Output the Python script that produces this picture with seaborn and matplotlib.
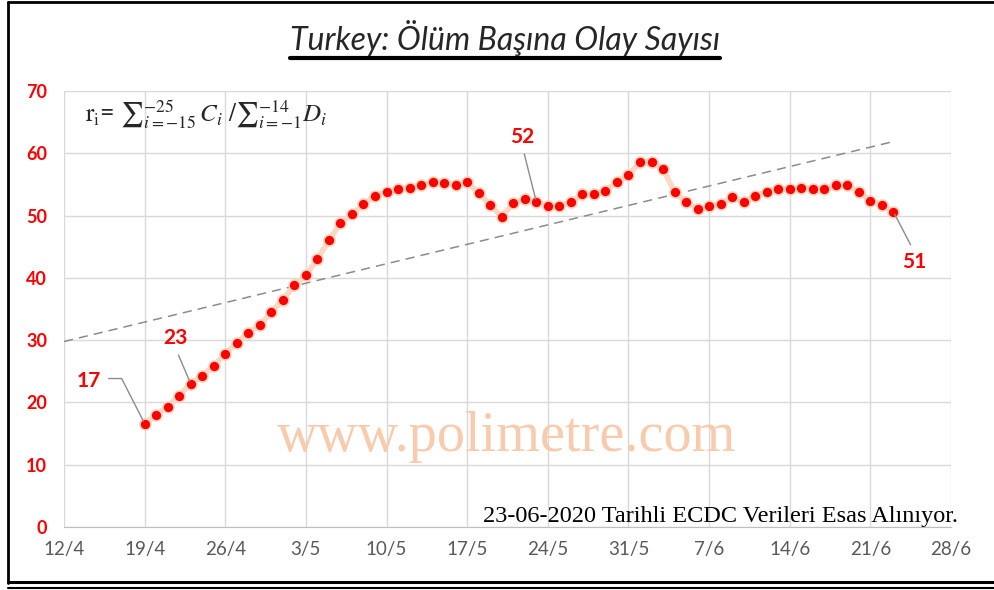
import matplotlib
matplotlib.use("Agg")
import matplotlib.pyplot as plt
from matplotlib.lines import Line2D
import numpy as np
import pandas as pd
import seaborn as sns

# daily ratio values, 19/4 .. 23/6
start_date = "2020-04-19"
ratio = [16.6, 18.0, 19.3, 21.1, 23.0, 24.3, 25.9, 27.8, 29.6, 31.2,
         32.4, 34.5, 36.5, 38.8, 40.4, 43.0, 46.0, 48.8, 50.2, 51.8,
         53.2, 53.8, 54.2, 54.5, 54.9, 55.4, 55.2, 54.9, 55.4, 53.6,
         51.7, 49.8, 52.0, 52.6, 52.2, 51.5, 51.5, 52.2, 53.4, 53.4,
         54.0, 55.4, 56.5, 58.6, 58.6, 57.5, 53.8, 52.2, 51.0, 51.5,
         51.8, 52.9, 52.2, 53.2, 53.8, 54.3, 54.3, 54.5, 54.3, 54.3,
         54.9, 54.9, 53.8, 52.4, 51.7, 50.6]
labelled_idx = [0, 4, 34, 65]
tick_labels = ["12/4", "19/4", "26/4", "3/5", "10/5", "17/5",
               "24/5", "31/5", "7/6", "14/6", "21/6", "28/6"]
y_ticks = [0, 10, 20, 30, 40, 50, 60, 70]
trend_back_days = 7

df = pd.DataFrame({
    "date": pd.date_range(start_date, periods=len(ratio), freq="D"),
    "ratio": ratio,
})
df["day"] = np.arange(len(df))

sns.set_style("white")
plt.rcParams["font.family"] = ["Lato", "DejaVu Sans"]
plt.rcParams["mathtext.fontset"] = "stix"

fig = plt.figure(figsize=(9.95, 5.9), dpi=100)
ax = fig.add_axes([0.0643, 0.1068, 0.8915, 0.739])

# trend line (least squares, extended one week back)
slope, intercept = np.polyfit(df["day"], df["ratio"], 1)
trend_days = np.array([-trend_back_days, df["day"].iloc[-1]])
trend = pd.DataFrame({
    "date": pd.Timestamp(start_date) + pd.to_timedelta(trend_days, unit="D"),
    "ratio": slope * trend_days + intercept,
})
ax.plot(trend["date"], trend["ratio"], color="#8c8c8c", lw=1.1,
        dashes=(6, 4), zorder=2)

sns.lineplot(data=df, x="date", y="ratio", ax=ax, color="#FCD9C4",
             lw=4, zorder=3)
sns.scatterplot(data=df, x="date", y="ratio", ax=ax, color="#FF0000",
                s=62, edgecolor="#FCD2BA", linewidth=1.2, zorder=4)

offsets = {0: (-40, 31), 4: (-11, 33), 34: (-10, 47), 65: (15, -36)}
relpos = {0: (1.0, 0.6), 4: (0.5, 0.0), 34: (0.5, 0.0), 65: (0.5, 1.0)}
for i in labelled_idx:
    row = df.iloc[i]
    conn = "angle,angleA=0,angleB=-63,rad=0" if i == 0 else "arc3"
    ax.annotate(f"{round(row['ratio'])}", xy=(row["date"], row["ratio"]),
                xytext=offsets[i], textcoords="offset points",
                ha="center", va="center", color="#FF0000",
                fontsize=15, fontweight="bold", zorder=6,
                arrowprops=dict(arrowstyle="-", color="#8c8c8c", lw=1,
                                relpos=relpos[i], shrinkA=3, shrinkB=2,
                                connectionstyle=conn))

ticks = pd.date_range("2020-04-12", "2020-06-28", freq="7D")
ax.set_xlim(ticks[0], ticks[-1])
ax.set_ylim(0, 70)
ax.set_xticks(ticks)
ax.set_xticklabels(tick_labels)
ax.set_yticks(y_ticks)
ax.set_xlabel("")
ax.set_ylabel("")
ax.grid(True, color="#D9D9D9", lw=1)
ax.set_axisbelow(True)
for side in ["top", "right", "left"]:
    ax.spines[side].set_visible(False)
ax.spines["bottom"].set_color("#BFBFBF")
ax.tick_params(axis="x", length=0, pad=10, labelsize=13.5, labelcolor="#595959")
ax.tick_params(axis="y", length=0, pad=12, labelsize=13, labelcolor="#FF0000")
for lbl in ax.get_yticklabels():
    lbl.set_fontweight("bold")

ax.text(0.024, 0.947,
        r"$\mathrm{r_i}$= ${\sum}_{i=-15}^{-25}\, C_i\ /{\sum}_{i=-1}^{-14} D_i$",
        transform=ax.transAxes, fontsize=18, va="center", ha="left")

fig.text(0.5096, 0.259, "www.polimetre.com", family="Liberation Serif",
         fontsize=40.5, color="#F8CBAD", ha="center", va="center", zorder=1)
fig.text(0.963, 0.115, "23-06-2020 Tarihli ECDC Verileri Esas Alınıyor.",
         family="Liberation Serif", fontsize=17.5, color="black",
         ha="right", va="baseline")

title = fig.text(0.5075, 0.916, "Turkey: Ölüm Başına Olay Sayısı",
                 fontsize=23, style="italic", ha="center", va="baseline")

# outer frame: left, top and a double bottom rule
frame_kw = dict(color="black", transform=fig.transFigure)
fig.lines.append(Line2D([0.008, 0.008], [0.012, 0.997], lw=2, **frame_kw))
fig.lines.append(Line2D([0.008, 1.0], [0.997, 0.997], lw=2, **frame_kw))
fig.lines.append(Line2D([0.008, 1.0], [0.014, 0.014], lw=2.2, **frame_kw))
fig.lines.append(Line2D([0.008, 1.0], [0.004, 0.004], lw=1.5, **frame_kw))

fig.canvas.draw()
bb = title.get_window_extent().transformed(fig.transFigure.inverted())
fig.lines.append(Line2D([bb.x0, bb.x1], [0.901, 0.901], lw=3,
                        color="black", transform=fig.transFigure))

fig.savefig("out.png", dpi=100)
plt.close(fig)
